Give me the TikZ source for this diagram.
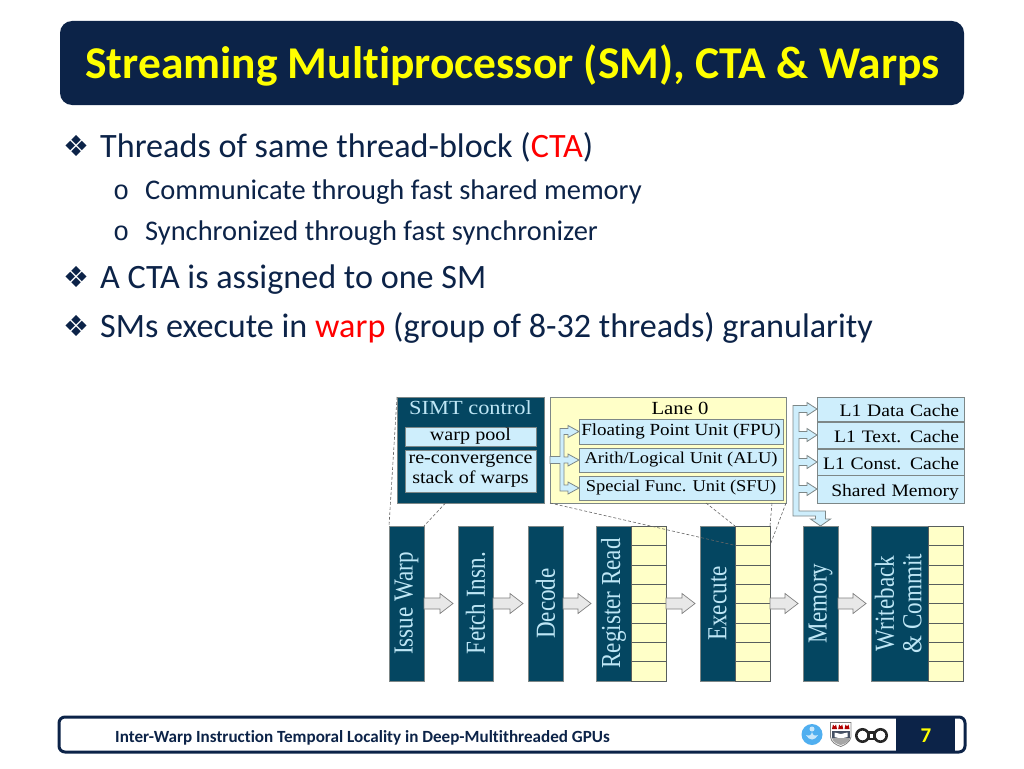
\documentclass[tikz,border=0pt]{standalone}
\usepackage{fontspec}
\setmainfont{Carlito}[Ligatures=NoCommon]
\newfontfamily\symbfont{DejaVu Sans}
\newfontfamily\ringfont{Liberation Mono}
\newfontfamily\unitfont[FakeStretch=1.12]{Liberation Serif}
\newfontfamily\stagefont[FakeStretch=0.84]{Liberation Serif}
\usetikzlibrary{positioning, calc}
\definecolor{SlideNavy}{RGB}{12,35,72}
\definecolor{TitleYellow}{RGB}{255,255,0}
\definecolor{StageTeal}{RGB}{4,70,97}
\definecolor{StageText}{RGB}{190,230,245}
\definecolor{UnitBlue}{RGB}{206,238,252}
\definecolor{LogYellow}{RGB}{255,255,200}
\definecolor{EdgeGray}{RGB}{125,135,135}
\definecolor{ArrowGray}{RGB}{232,232,232}
\definecolor{LogoBlue}{RGB}{80,175,240}
\tikzset{
    bodytext/.style={anchor=base west, inner sep=0pt, text=SlideNavy, font=\fontsize{34.15}{36}\selectfont},
    subtext/.style={anchor=base west, inner sep=0pt, text=SlideNavy, font=\fontsize{28.45}{32}\selectfont},
    bigbullet/.style={anchor=base west, inner sep=0pt, text=SlideNavy, font=\symbfont\fontsize{29}{32}\selectfont},
    ringbullet/.style={anchor=base west, inner sep=0pt, text=SlideNavy, font=\ringfont\fontsize{27}{32}\selectfont},
    unitbox/.style={draw=EdgeGray, fill=UnitBlue, inner sep=0pt, outer sep=0pt, text=black, font=\unitfont\fontsize{16.5}{19}\selectfont},
    simtbox/.style={unitbox, font=\unitfont\fontsize{18}{20}\selectfont},
    cachebox/.style={unitbox, minimum width=147, text width=137, inner xsep=5, text height=14, text depth=0, align=right, font=\unitfont\fontsize{17.5}{19}\selectfont},
    stagebox/.style={draw=EdgeGray, fill=StageTeal, inner sep=0pt, outer sep=0pt, minimum height=155, text=StageText, font=\stagefont\fontsize{27.5}{27.5}\selectfont},
    logbox/.style={draw=EdgeGray, fill=LogYellow, inner sep=0pt, outer sep=0pt, minimum width=35, minimum height=155},
    logrow/.style={draw=EdgeGray!70!black, inner sep=0pt, outer sep=0pt, minimum width=35, minimum height=19.375},
    zoomline/.style={draw=black!60, densely dashed, line width=0.6pt},
    blockarrow/.style={draw=EdgeGray, fill=UnitBlue, line width=0.8pt},
    flowarrow/.style={draw=black!50, fill=ArrowGray, line width=0.7pt, to path={
        let \p1=(\tikztostart), \p2=(\tikztotarget) in
        (\x1,{\y1+5.5pt}) -- ({\x2-18pt},{\y1+5.5pt}) -- ({\x2-18pt},{\y1+10pt}) -- ({\x2-5pt},\y1)
        -- ({\x2-18pt},{\y1-10pt}) -- ({\x2-18pt},{\y1-5.5pt}) -- (\x1,{\y1-5.5pt}) -- cycle}},
}

\begin{document}
\begin{tikzpicture}[x=1pt, y=-1pt]
    \useasboundingbox (0,0) rectangle (1024,768);
    \fill[white] (0,0) rectangle (1024,768);

    % title and text
    \node[fill=SlideNavy, rounded corners=12, minimum width=904, minimum height=84, inner sep=0pt] (titlebar) at (512,63) {};
    \node[anchor=base west, inner sep=0pt, text=TitleYellow, font=\bfseries\fontsize{45.5}{50}\selectfont] (title) at (85,78.5) {Streaming Multiprocessor (SM), CTA \& Warps};

    \node[bigbullet]  (bulleta) at (63,156) {❖};
    \node[bodytext]   (linea)   at (100,157) {Threads of same thread-block (\textcolor{red}{CTA})};
    \node[ringbullet] (bulletb) at (113,199) {o};
    \node[subtext]    (lineb)   at (145,199) {Communicate through fast shared memory};
    \node[ringbullet] (bulletc) at (113,240) {o};
    \node[subtext]    (linec)   at (145,240) {Synchronized through fast synchronizer};
    \node[bigbullet]  (bulletd) at (63,287) {❖};
    \node[bodytext]   (lined)   at (100,288) {A CTA is assigned to one SM};
    \node[bigbullet]  (bullete) at (63,336) {❖};
    \node[bodytext]   (linee)   at (100,337) {SMs execute in \textcolor{red}{warp} (group of 8-32 threads) granularity};

    % SIMT control
    \node[draw=EdgeGray, fill=StageTeal, minimum width=147, minimum height=106, inner sep=0pt, outer sep=0pt] (simt) at (470.5,450) {};
    \node[inner sep=0pt, text=StageText, font=\unitfont\fontsize{20}{22}\selectfont] (simtlabel) at (470.5,408) {SIMT control};
    \node[simtbox, minimum width=131, minimum height=19] (warppool) at (470.5,436.5) {warp pool};
    \node[simtbox, minimum width=131, minimum height=42, align=center] (reconv) at (470.5,471) {re-convergence\\stack of warps};

    % lane
    \node[draw=EdgeGray, fill=LogYellow, minimum width=236, minimum height=106, inner sep=0pt, outer sep=0pt] (lane) at (668,450) {};
    \node[inner sep=0pt, text=black, font=\unitfont\fontsize{18.5}{20}\selectfont] (lanelabel) at (680,408) {Lane 0};
    \node[unitbox, minimum width=204, minimum height=25, font=\unitfont\fontsize{17}{19}\selectfont] (fpu) at (681,431.5) {Floating Point Unit (FPU)};
    \node[unitbox, minimum width=204, minimum height=24] (alu) at (681,460)   {Arith/Logical Unit (ALU)};
    \node[unitbox, minimum width=204, minimum height=24] (sfu) at (681,488)   {Special Func. Unit (SFU)};
    \draw[blockarrow] let \p1=(fpu.west), \p2=(alu.west), \p3=(sfu.west), \p4=(lane.west) in
        (\x4,{\y2+3.5pt}) -- (560pt,{\y2+3.5pt}) -- (560pt,{\y1+3pt}) -- (568pt,{\y1+3pt}) -- (568pt,{\y1+6pt}) -- (\x1,\y1)
        -- (568pt,{\y1-6pt}) -- (568pt,{\y1-3pt}) -- (564pt,{\y1-3pt}) -- (564pt,{\y2+3pt}) -- (568pt,{\y2+3pt}) -- (568pt,{\y2+6pt}) -- (\x2,\y2)
        -- (568pt,{\y2-6pt}) -- (568pt,{\y2-3pt}) -- (564pt,{\y2-3pt}) -- (564pt,{\y3+3pt}) -- (568pt,{\y3+3pt}) -- (568pt,{\y3+6pt}) -- (\x3,\y3)
        -- (568pt,{\y3-6pt}) -- (568pt,{\y3-3pt}) -- (560pt,{\y3-3pt}) -- (560pt,{\y2-3.5pt}) -- (\x4,{\y2-3.5pt}) -- cycle;

    % caches
    \node[cachebox, minimum height=24] (l1data)  at (890.5,409) {L1 Data Cache};
    \node[cachebox, minimum height=26] (l1text)  at (890.5,435) {L1 Text. Cache};
    \node[cachebox, minimum height=26] (l1const) at (890.5,462) {L1 Const. Cache};
    \node[cachebox, minimum height=28] (shmem)   at (890.5,489) {Shared Memory};

    % pipeline
    \node[stagebox, minimum width=35] (issue)  at (406.5,603.5) {\rotatebox{90}{Issue Warp}};
    \node[stagebox, minimum width=35] (fetch)  at (475.5,603.5) {\rotatebox{90}{Fetch Insn.}};
    \node[stagebox, minimum width=35] (decode) at (545.5,603.5) {\rotatebox{90}{Decode}};
    \node[stagebox, minimum width=35] (regrd)  at (613.5,603.5) {\rotatebox{90}{Register Read}};
    \node[stagebox, minimum width=35] (exec)   at (717.5,603.5) {\rotatebox{90}{Execute}};
    \node[stagebox, minimum width=35] (memory) at (820.5,603.5) {\rotatebox{90}{Memory}};
    \node[stagebox, minimum width=57] (wback)  at (899.5,603.5) {\makebox[57pt][c]{\hspace*{5pt}\rotatebox{90}{\begin{tabular}{@{}c@{}}Writeback\\\& Commit\end{tabular}}}};
    \foreach \logname/\logx in {rr/648.5, ex/752.5, wb/945.5} {
        \node[logbox] (\logname log) at (\logx,603.5) {};
        \foreach \i in {1,...,8}
            \node[logrow] (\logname\i) at (\logx,{526+19.375*(\i-0.5)}) {};
    }

    \draw[flowarrow] (issue.east) to (fetch.west);
    \draw[flowarrow] (fetch.east) to (decode.west);
    \draw[flowarrow] (decode.east) to (regrd.west);
    \draw[flowarrow] (rrlog.east) to (exec.west);
    \draw[flowarrow] (exlog.east) to (memory.west);
    \draw[flowarrow] (memory.east) to (wback.west);

    \draw[blockarrow] let \p1=(l1data.west), \p2=(l1text.west), \p3=(l1const.west), \p4=(shmem.west), \p5=(memory.north) in
        (793pt,{\y5+15pt}) -- (793pt,{\y1+3.5pt}) -- (807pt,{\y1+3.5pt}) -- (807pt,{\y1+6.5pt}) -- (\x1,\y1) -- (807pt,{\y1-6.5pt}) -- (807pt,{\y1-3.5pt}) -- (799pt,{\y1-3.5pt})
        -- (799pt,{\y2+3.5pt}) -- (807pt,{\y2+3.5pt}) -- (807pt,{\y2+6.5pt}) -- (\x2,\y2) -- (807pt,{\y2-6.5pt}) -- (807pt,{\y2-3.5pt}) -- (799pt,{\y2-3.5pt})
        -- (799pt,{\y3+3.5pt}) -- (807pt,{\y3+3.5pt}) -- (807pt,{\y3+6.5pt}) -- (\x3,\y3) -- (807pt,{\y3-6.5pt}) -- (807pt,{\y3-3.5pt}) -- (799pt,{\y3-3.5pt})
        -- (799pt,{\y4+3.5pt}) -- (807pt,{\y4+3.5pt}) -- (807pt,{\y4+6.5pt}) -- (\x4,\y4) -- (807pt,{\y4-6.5pt}) -- (807pt,{\y4-3.5pt}) -- (799pt,{\y4-3.5pt})
        -- (799pt,{\y5+15pt}) -- ({\x5+5pt},{\y5+15pt}) -- ({\x5+5pt},{\y5+7pt}) -- ({\x5+10pt},{\y5+7pt}) -- (\x5,\y5) -- ({\x5-10pt},{\y5+7pt}) -- ({\x5-5pt},{\y5+7pt}) -- ({\x5-5pt},{\y5+10pt}) -- (793pt,{\y5+10pt}) -- cycle;

    % dashed zoom lines
    \draw[zoomline] (simt.north west) -- (issue.north west);
    \draw[zoomline] ([xshift=-25]simt.south) -- (issue.north east);
    \draw[zoomline] (lane.south west) -- (ex1.south west);
    \draw[zoomline] ([xshift=38]lane.south) -- (ex1.north west);
    \draw[zoomline] ([xshift=104]lane.south) -- (ex1.north east);
    \draw[zoomline] (lane.south east) -- (ex1.south east);

    % footer
    \node[draw=SlideNavy, line width=3pt, rounded corners=6, minimum width=906, minimum height=35, inner sep=0pt] (footer) at (512,734.5) {};
    \node[fill=SlideNavy, minimum width=59, minimum height=35, inner sep=0pt] (pagebox) at (925.5,734.5) {};
    \node[inner sep=0pt, text=TitleYellow, font=\bfseries\fontsize{21}{24}\selectfont] (pagenum) at (926,736) {7};
    \node[anchor=base west, inner sep=0pt, text=SlideNavy, font=\bfseries\fontsize{17.08}{19}\selectfont] (footertext) at (115,742) {Inter-Warp Instruction Temporal Locality in Deep-Multithreaded GPUs};

    % logos
    \fill[LogoBlue] (812,734.5) circle (10.5);
    \fill[white!70!LogoBlue] (806,735) .. controls (809,741) and (815,741) .. (818,735) .. controls (815,736) and (813,736) .. (812,732) .. controls (811,736) and (809,736) .. (806,735) -- cycle;
    \fill[white!70!LogoBlue] (812,729) circle (2.5);
    \draw[black!50, fill=white, line width=0.8pt] (830.5,722.5) -- (851,722.5) -- (851,737) .. controls (850,742) and (845,745) .. (840.7,746.5) .. controls (836,745) and (831,742) .. (830.5,737) -- cycle;
    \foreach \cx in {834.5,840.7,847}
        \fill[red!70!black] ({\cx-2.5},729) -- ({\cx-1.5},724.5) -- (\cx,726.5) -- ({\cx+1.5},724.5) -- ({\cx+2.5},729) -- cycle;
    \fill[SlideNavy!50!gray] (832,731) rectangle (850,738);
    \fill[white] (834.5,732.5) -- (840.7,734) -- (847.5,732.5) -- (847.5,737) -- (840.7,738.5) -- (834.5,737) -- cycle;
    \fill[gray!70] (832,738) .. controls (833,742) and (837,744) .. (840.7,745) .. controls (845,744) and (849,742) .. (850,738) -- cycle;
    \draw[black!85, line width=2.6pt] (862.5,735.5) circle (6.2);
    \draw[black!85, line width=2.6pt] (880.5,735.5) circle (6.2);
    \fill[black!85] (867,731) rectangle (876,740);
    \fill[white] (870,733.5) rectangle (873,737.5);
\end{tikzpicture}
\end{document}
